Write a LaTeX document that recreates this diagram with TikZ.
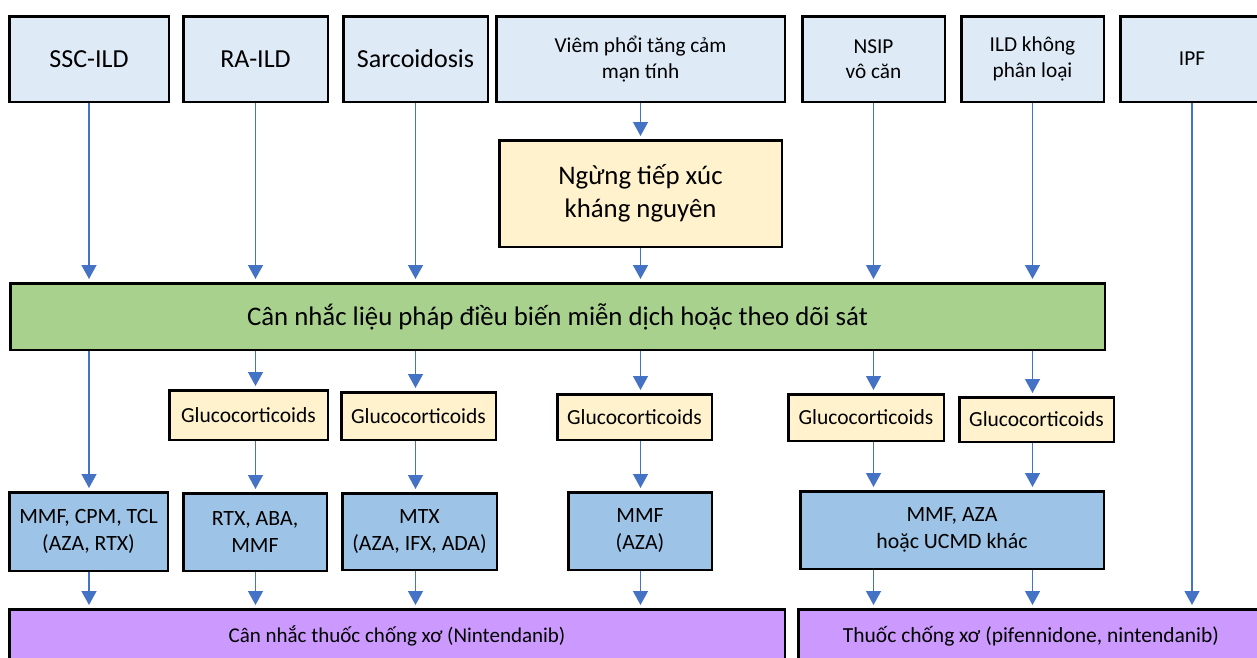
\documentclass[tikz,border=0pt]{standalone}
\usepackage{fontspec}
\setmainfont{Carlito}
\usetikzlibrary{arrows.meta}
\definecolor{toptint}{HTML}{DEEBF7}
\definecolor{stoptint}{HTML}{FFF2CC}
\definecolor{immgreen}{HTML}{A9D18E}
\definecolor{drugblue}{HTML}{9DC3E6}
\definecolor{fibviolet}{HTML}{CC99FF}
\definecolor{flowblue}{HTML}{4472C4}
\tikzset{
  dxbox/.style={draw=black,line width=2.5pt,fill=toptint,align=center,inner sep=2pt},
  bigdx/.style={dxbox,font=\fontsize{26}{33}\selectfont},
  smalldx/.style={dxbox,font=\fontsize{21.3}{25.5}\selectfont},
  stopbox/.style={dxbox,fill=stoptint,font=\fontsize{26.8}{33}\selectfont},
  immbox/.style={dxbox,fill=immgreen,font=\fontsize{26.8}{31}\selectfont},
  gcbox/.style={dxbox,fill=stoptint,font=\fontsize{21.5}{27}\selectfont},
  drugbox/.style={dxbox,fill=drugblue,font=\fontsize{21.8}{27}\selectfont},
  fibbox/.style={dxbox,fill=fibviolet,font=\fontsize{21}{27}\selectfont},
  flow/.style={-{Triangle[width=15pt,length=14pt]},line width=1.3pt,color=flowblue,shorten >=3pt},
}
\begin{document}
\begin{tikzpicture}[x=1pt,y=-1pt]
  \clip (0,0) rectangle (1257,657);
  \node[bigdx,minimum width=159.5pt,minimum height=85.5pt] (ssc) at (89,59) {SSC-ILD};
  \node[bigdx,minimum width=144.5pt,minimum height=85.5pt] (ra) at (255.5,59) {RA-ILD};
  \node[bigdx,minimum width=144.5pt,minimum height=85.5pt] (sarc) at (415.5,59) {Sarcoidosis};
  \node[smalldx,minimum width=288.5pt,minimum height=85.5pt] (viem) at (640.5,59) {Viêm phổi tăng cảm\\mạn tính};
  \node[smalldx,minimum width=142.5pt,minimum height=85.5pt] (nsip) at (873.5,59) {NSIP\\vô căn};
  \node[smalldx,minimum width=142.5pt,minimum height=85.5pt] (ildk) at (1032.5,59) {ILD không\\phân loại};
  \node[smalldx,minimum width=143.5pt,minimum height=85.5pt] (ipf) at (1192,59) {IPF};
  \node[stopbox,minimum width=282.5pt,minimum height=106.5pt] (stop) at (640.5,193.5) {Ngừng tiếp xúc\\kháng nguyên};
  \node[immbox,minimum width=1094.5pt,minimum height=66.5pt] (imm) at (557.5,316.5) {Cân nhắc liệu pháp điều biến miễn dịch hoặc theo dõi sát};
  \node[gcbox,minimum width=158.5pt,minimum height=49.5pt] (g1) at (248.5,415) {Glucocorticoids};
  \node[gcbox,minimum width=154.5pt,minimum height=47.5pt] (g2) at (418.5,416) {Glucocorticoids};
  \node[gcbox,minimum width=154.5pt,minimum height=45.5pt] (g3) at (634.5,417) {Glucocorticoids};
  \node[gcbox,minimum width=155.5pt,minimum height=46.5pt] (g4) at (866,417.5) {Glucocorticoids};
  \node[gcbox,minimum width=154.5pt,minimum height=44.5pt] (g5) at (1036.5,419.5) {Glucocorticoids};
  \node[drugbox,minimum width=158.5pt,minimum height=78.5pt] (b1) at (88.5,531.5) {MMF, CPM, TCL\\(AZA, RTX)};
  \node[drugbox,minimum width=143.5pt,minimum height=77.5pt] (b2) at (255,532) {RTX, ABA,\\MMF};
  \node[drugbox,minimum width=154.5pt,minimum height=76.5pt] (b3) at (419.5,531.5) {MTX\\(AZA, IFX, ADA)};
  \node[drugbox,minimum width=143.5pt,minimum height=77.5pt] (b4) at (640,531) {MMF\\(AZA)};
  \node[drugbox,minimum width=303.5pt,minimum height=77.5pt] (b5) at (952,530) {MMF, AZA\\hoặc UCMD khác};
  \node[fibbox,minimum width=775.5pt,minimum height=53.5pt] (p1) at (397,636) {Cân nhắc thuốc chống xơ (Nintendanib)};
  \node[fibbox,minimum width=465.5pt,minimum height=53.5pt,font=\fontsize{21.5}{27}\selectfont] (p2) at (1031,636) {Thuốc chống xơ (pifennidone, nintendanib)};
  \foreach \c in {ssc,ra,sarc,nsip,ildk} \draw[flow] (\c) -- (\c |- imm.north);
  \draw[flow] (viem) -- (viem |- stop.north);
  \draw[flow] (stop) -- (stop |- imm.north);
  \draw[flow] (ssc |- imm.south) -- (ssc |- b1.north);
  \draw[flow] (ssc |- b1.south) -- (ssc |- p1.north);
  \foreach \c/\g/\b/\p in {ra/g1/b2/p1,sarc/g2/b3/p1,viem/g3/b4/p1,nsip/g4/b5/p2,ildk/g5/b5/p2} {
    \draw[flow] (\c |- imm.south) -- (\c |- \g.north);
    \draw[flow] (\c |- \g.south) -- (\c |- \b.north);
    \draw[flow] (\c |- \b.south) -- (\c |- \p.north);
  }
  \draw[flow] (ipf) -- (ipf |- p2.north);
\end{tikzpicture}
\end{document}
